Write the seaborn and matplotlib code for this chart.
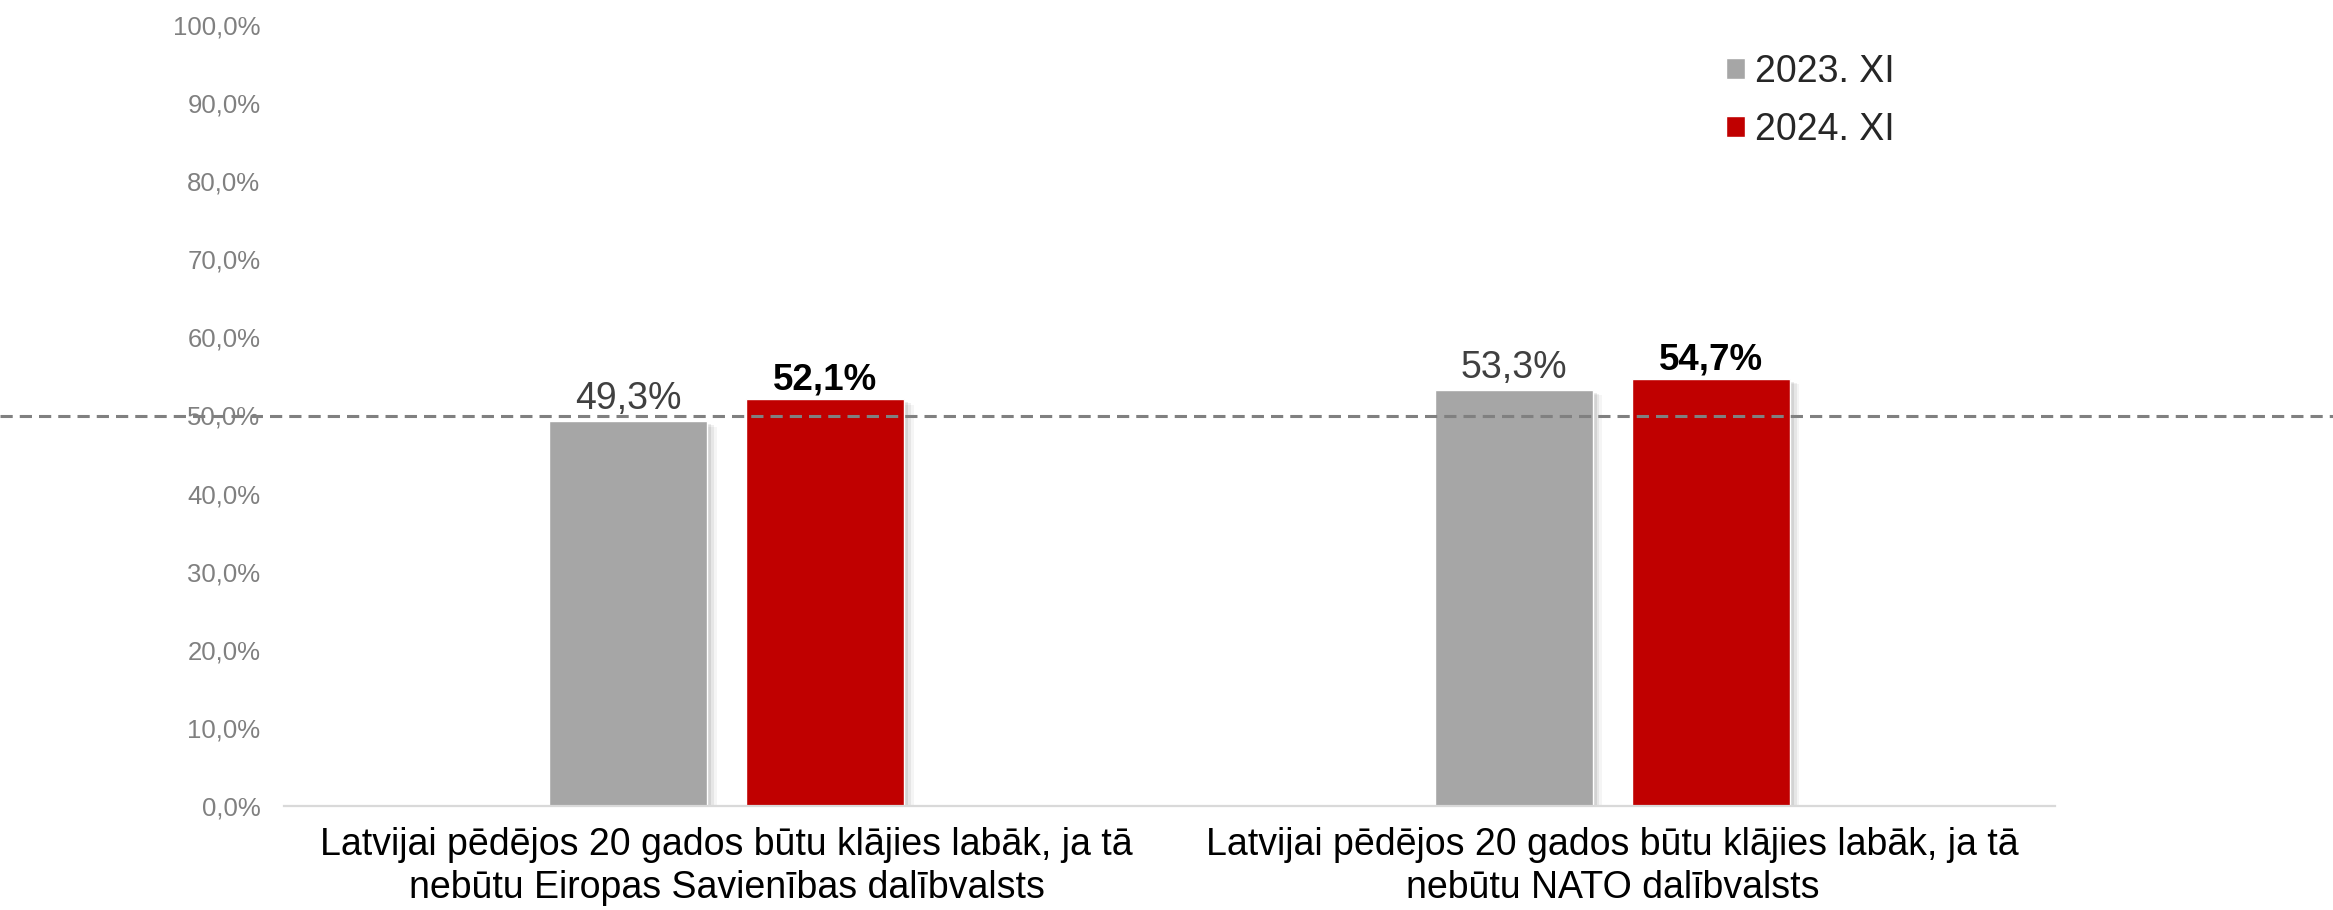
import pandas as pd
import numpy as np
import matplotlib
matplotlib.use('Agg')
import matplotlib.pyplot as plt
import matplotlib.patheffects as pe
from matplotlib.ticker import FuncFormatter
import seaborn as sns

# dati
KATEGORIJAS = ['Latvijai pēdējos 20 gados būtu klājies labāk, ja tā\nnebūtu Eiropas Savienības dalībvalsts',
               'Latvijai pēdējos 20 gados būtu klājies labāk, ja tā\nnebūtu NATO dalībvalsts']
GADI = ['2023. XI', '2024. XI']
V_2023 = [49.3, 53.3]
V_2024 = [52.1, 54.7]

KRASAS = ['#A6A6A6', '#C00000']

df = pd.DataFrame({
    'kategorija': KATEGORIJAS * 2,
    'gads': [GADI[0]] * 2 + [GADI[1]] * 2,
    'vertiba': V_2023 + V_2024,
})

sns.set_style('white')
plt.rcParams['font.family'] = ['Liberation Sans', 'DejaVu Sans']

fig = plt.figure(figsize=(23.33, 9.10), dpi=100)
ax = fig.add_axes([284 / 2333, 1 - 806 / 910, (2055 - 284) / 2333, (806 - 25) / 910])

sns.barplot(data=df, x='kategorija', y='vertiba', hue='gads', palette=KRASAS,
            width=0.445, gap=0.2, ax=ax, saturation=1)

ax.set_ylim(0, 100)
ax.set_xlim(-0.5, 1.5)
ax.set_yticks(np.arange(0, 101, 10))
ax.yaxis.set_major_formatter(FuncFormatter(lambda v, p: f'{v:.1f}%'.replace('.', ',')))
ax.tick_params(axis='y', labelsize=18.5, labelcolor='#808080', length=0, pad=17)
ax.tick_params(axis='x', labelsize=27, labelcolor='black', length=0, pad=15)
for t in ax.get_xticklabels():
    t.set_linespacing(1.25)
ax.set_xlabel('')
ax.set_ylabel('')
for s in ['left', 'right', 'top']:
    ax.spines[s].set_visible(False)
ax.spines['bottom'].set_color('#D9D9D9')
ax.spines['bottom'].set_linewidth(1.6)

# mīksta ēna stabiņiem
for cont in ax.containers:
    for p in cont:
        p.set_path_effects([pe.SimplePatchShadow(offset=(7, -4), shadow_rgbFace='black', alpha=0.04),
                            pe.SimplePatchShadow(offset=(5, -3), shadow_rgbFace='black', alpha=0.06),
                            pe.SimplePatchShadow(offset=(3, -2), shadow_rgbFace='black', alpha=0.08),
                            pe.Normal()])

# vērtību etiķetes
fmt = lambda v: f'{v:.1f}%'.replace('.', ',')
ax.bar_label(ax.containers[0], labels=[fmt(v) for v in V_2023], padding=3,
             fontsize=27, color='#404040')
ax.bar_label(ax.containers[1], labels=[fmt(v) for v in V_2024], padding=1,
             fontsize=26.5, fontweight='bold', color='black')

# 50% līnija pāri visam attēlam
ax.axhline(50, xmin=-284 / 1771, xmax=(2333 - 284) / 1771, clip_on=False,
           color='#808080', lw=2.2, dashes=(4, 2.3), zorder=5)

ax.legend(loc='upper left', bbox_to_anchor=(1726 / 2333, 1 - 54 / 910),
          bbox_transform=fig.transFigure, frameon=False, fontsize=27,
          handlelength=0.5, handleheight=0.5, handletextpad=0.27,
          labelspacing=0.58, borderpad=0, borderaxespad=0)

fig.savefig('out.png', dpi=100)
